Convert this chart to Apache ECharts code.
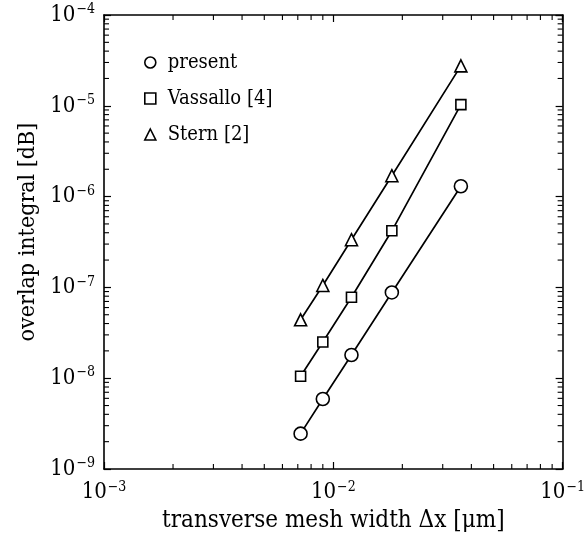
<!DOCTYPE html>
<html>
<head>
<meta charset="utf-8">
<script src="https://cdn.jsdelivr.net/npm/echarts@6/dist/echarts.min.js"></script>
<style>
  html, body { margin: 0; padding: 0; background: #fff; }
  #main { width: 588px; height: 548px; }
</style>
</head>
<body>
<div id="main"></div>
<script>
// mesh width (um)
const meshWidth = [0.0072, 0.009, 0.012, 0.018, 0.036]
// overlap integral [dB]
const presentVals = [2.45e-9, 5.9e-9, 1.8e-8, 8.8e-8, 1.3e-6]
const vassalloVals = [1.05e-8, 2.5e-8, 7.8e-8, 4.2e-7, 1.03e-5]
const sternVals = [4.4e-8, 1.05e-7, 3.35e-7, 1.7e-6, 2.75e-5]
const seriesNames = ['present', 'Vassallo [4]', 'Stern [2]']
const xDecades = [-3, -2]
const yDecades = [-9, -8, -7, -6, -5]

const X_MIN = 1e-3, X_MAX = 1e-1
const Y_MIN = 1e-9, Y_MAX = 1e-4
const FONT = '"DejaVu Serif Condensed", "Liberation Serif", serif'

// minor ticks 2..9 of each decade
let minorTicks = []
xDecades.forEach(d => {
  for (let m = 2; m <= 9; m++) minorTicks.push([m * Math.pow(10, d), Y_MIN, 0])
})
yDecades.forEach(d => {
  for (let m = 2; m <= 9; m++) minorTicks.push([X_MIN, m * Math.pow(10, d), 1])
})

function powLabel(v) {
  const e = Math.round(Math.log10(v))
  return '{b|10}{e|\u2212' + Math.abs(e) + '}'
}
const labelRich = {
  b: { fontFamily: FONT, fontSize: 22, color: '#000' },
  e: { fontFamily: FONT, fontSize: 14, color: '#000', padding: [0, 0, 11, 1] }
}

const lineSeries = (name, vals, symbol, size) => ({
  name: name,
  type: 'line',
  data: meshWidth.map((x, i) => [x, vals[i]]),
  symbol: symbol,
  symbolSize: size,
  showAllSymbol: true,
  lineStyle: { color: '#000', width: 1.7 },
  itemStyle: { color: '#fff', borderColor: '#000', borderWidth: 1.6 },
  z: 3
})

const chart = echarts.init(document.getElementById('main'))
const option = {
  animation: false,
  backgroundColor: '#fff',
  grid: { left: 104, right: 25, top: 15, bottom: 79 },
  legend: {
    orient: 'vertical',
    left: 139,
    top: 47,
    itemWidth: 11,
    itemHeight: 11,
    itemGap: 15,
    textStyle: { fontFamily: FONT, fontSize: 20, color: '#000', lineHeight: 21, padding: [0, 0, 0, 7] },
    data: [
      { name: seriesNames[0], icon: 'circle', itemStyle: { color: '#fff', borderColor: '#000', borderWidth: 1.6 } },
      { name: seriesNames[1], icon: 'rect', itemStyle: { color: '#fff', borderColor: '#000', borderWidth: 1.6 } },
      { name: seriesNames[2], icon: 'triangle', itemStyle: { color: '#fff', borderColor: '#000', borderWidth: 1.6 } }
    ]
  },
  xAxis: [
    {
      type: 'log', min: X_MIN, max: X_MAX, logBase: 10,
      name: 'transverse mesh width \u0394x [\u03bcm]',
      nameLocation: 'middle', nameGap: 39,
      nameTextStyle: { fontFamily: FONT, fontSize: 24, color: '#000' },
      axisLine: { lineStyle: { color: '#000', width: 1.6 } },
      axisTick: { inside: true, length: 7, lineStyle: { color: '#000', width: 1.2 } },
      axisLabel: { margin: 11, formatter: powLabel, rich: labelRich },
      splitLine: { show: false }
    },
    {
      type: 'log', min: X_MIN, max: X_MAX, logBase: 10, position: 'top',
      axisLine: { lineStyle: { color: '#000', width: 1.6 } },
      axisTick: { inside: true, length: 7, lineStyle: { color: '#000', width: 1.2 } },
      axisLabel: { show: false },
      splitLine: { show: false }
    }
  ],
  yAxis: [
    {
      type: 'log', min: Y_MIN, max: Y_MAX, logBase: 10,
      name: 'overlap integral [dB]',
      nameLocation: 'middle', nameGap: 61,
      nameTextStyle: { fontFamily: FONT, fontSize: 23, color: '#000', padding: [0, 0, 0, 20] },
      axisLine: { lineStyle: { color: '#000', width: 1.6 } },
      axisTick: { inside: true, length: 7, lineStyle: { color: '#000', width: 1.2 } },
      axisLabel: { margin: 9, formatter: powLabel, rich: labelRich },
      splitLine: { show: false }
    },
    {
      type: 'log', min: Y_MIN, max: Y_MAX, logBase: 10, position: 'right',
      axisLine: { lineStyle: { color: '#000', width: 1.6 } },
      axisTick: { inside: true, length: 7, lineStyle: { color: '#000', width: 1.2 } },
      axisLabel: { show: false },
      splitLine: { show: false }
    }
  ],
  series: [
    lineSeries(seriesNames[0], presentVals, 'circle', 13),
    lineSeries(seriesNames[1], vassalloVals, 'rect', 10),
    lineSeries(seriesNames[2], sternVals, 'triangle', 12),
    {
      type: 'custom',
      silent: true,
      clip: false,
      z: 5,
      encode: { x: 0, y: 1 },
      data: minorTicks,
      renderItem: function (params, api) {
        const kind = api.value(2)
        const len = 5
        const style = { stroke: '#000', lineWidth: 1.1 }
        if (kind === 0) {
          const p0 = api.coord([api.value(0), Y_MIN])
          const p1 = api.coord([api.value(0), Y_MAX])
          return {
            type: 'group',
            children: [
              { type: 'line', shape: { x1: p0[0], y1: p0[1], x2: p0[0], y2: p0[1] - len }, style: style },
              { type: 'line', shape: { x1: p1[0], y1: p1[1], x2: p1[0], y2: p1[1] + len }, style: style }
            ]
          }
        }
        const q0 = api.coord([X_MIN, api.value(1)])
        const q1 = api.coord([X_MAX, api.value(1)])
        return {
          type: 'group',
          children: [
            { type: 'line', shape: { x1: q0[0], y1: q0[1], x2: q0[0] + len, y2: q0[1] }, style: style },
            { type: 'line', shape: { x1: q1[0], y1: q1[1], x2: q1[0] - len, y2: q1[1] }, style: style }
          ]
        }
      }
    }
  ]
}
chart.setOption(option)
</script>
</body>
</html>
